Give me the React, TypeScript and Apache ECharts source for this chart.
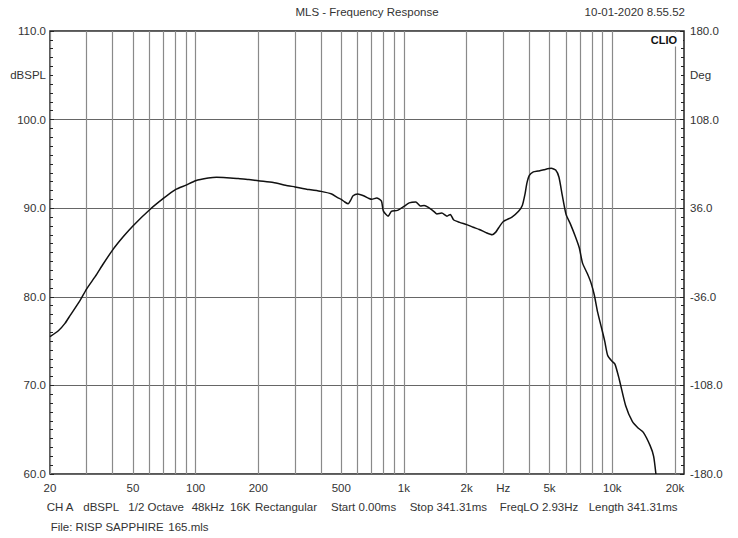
import React, { useEffect, useRef } from "react";
import * as echarts from "echarts";

const FREQS = [
  20, 22, 23.6, 25, 27.9, 30, 33, 36, 40, 45, 50, 60, 70, 80, 90, 100, 115, 126, 141, 160, 180,
  200, 236, 270, 300, 350, 400, 450, 480, 500, 520, 540, 555, 570, 600, 640, 680, 700, 740, 780, 796,
  840, 870, 930, 1000, 1060, 1140, 1200, 1250, 1310, 1390, 1440, 1520, 1610, 1670, 1730, 1850,
  2000, 2150, 2300, 2500, 2650, 2760, 2850, 3000, 3300, 3550, 3700, 3820, 3890, 4000, 4180, 4400, 4700, 5100, 5350, 5550,
  5750, 6000, 6300, 6650, 6950, 7200, 7600, 7900, 8200, 8500, 8900, 9200, 9500, 9900, 10300, 10800, 11600, 12500, 13300, 14100,
  15200, 15800, 16200,
];
const SPL = [
  75.5, 76.2, 77.0, 77.9, 79.6, 80.9, 82.3, 83.7, 85.3, 86.8, 88.0, 89.8, 91.1, 92.1, 92.6, 93.1, 93.4, 93.5, 93.45, 93.35, 93.25,
  93.1, 92.9, 92.6, 92.4, 92.1, 91.9, 91.6, 91.2, 91.0, 90.7, 90.5, 90.9, 91.4, 91.6, 91.4, 91.1, 91.0, 91.15, 90.8, 89.7,
  89.1, 89.65, 89.75, 90.2, 90.6, 90.7, 90.25, 90.3, 90.1, 89.65, 89.35, 89.45, 89.1, 89.3, 88.7, 88.4,
  88.15, 87.85, 87.6, 87.2, 87.0, 87.3, 87.8, 88.5, 89.0, 89.65, 90.3, 91.7, 92.8, 93.7, 94.1, 94.2, 94.35, 94.5, 94.3, 93.5,
  91.5, 89.3, 88.2, 86.8, 85.5, 83.8, 82.6, 81.6, 80.2, 78.3, 76.4, 75.0, 73.4, 72.8, 72.4, 70.7, 67.7, 65.9, 65.2, 64.7,
  63.2, 62.0, 60.0,
];

const FREQ_GRID = [20, 30, 40, 50, 60, 70, 80, 90, 100, 200, 300, 400, 500, 600, 700, 800, 900, 1000, 2000, 3000, 4000, 5000, 6000, 7000, 8000, 9000, 10000, 20000];
const FREQ_LABELS = [20, 50, 100, 200, 500, 1000, 2000, 3000, 5000, 10000, 20000];
const FREQ_LABEL_TEXT = ["20", "50", "100", "200", "500", "1k", "2k", "Hz", "5k", "10k", "20k"];
const DEG_LABELS = ["-180.0", "-108.0", "-36.0", "36.0", "108.0", "180.0"];

const FOOTER_ITEMS = ["CH A", "dBSPL", "1/2 Octave", "48kHz", "16K", "Rectangular", "Start 0.00ms", "Stop 341.31ms", "FreqLO 2.93Hz", "Length 341.31ms"];
const FOOTER_X = [46.7, 83.3, 128.3, 191.7, 230, 255, 331, 409.7, 499.7, 588.7];

const FONT = "'Liberation Sans', Arial, sans-serif";
const TXT = "#333";

export default function App() {
  const ref = useRef<HTMLDivElement>(null);
  useEffect(() => {
    if (!ref.current) return;
    const chart = echarts.init(ref.current, null, { renderer: "svg" });
    const data = FREQS.map((f, i) => [f, SPL[i]]);
    const t = (text: string, x: number, y: number, extra: any = {}) => ({
      type: "text",
      x,
      y,
      z: 10,
      style: { text, fill: TXT, font: `11.5px ${FONT}`, textVerticalAlign: "middle", ...extra },
    });
    const graphics: any[] = [
      t("MLS - Frequency Response", 367, 12, { textAlign: "center" }),
      t("10-01-2020 8.55.52", 685, 12, { textAlign: "right" }),
      t("dBSPL", 46, 75, { textAlign: "right" }),
      t("Deg", 690, 75, { textAlign: "left" }),
      { type: "rect", shape: { x: 645, y: 32.5, width: 38, height: 14 }, style: { fill: "#fff" }, z: 9 },
      t("CLIO", 677, 40, { textAlign: "right", font: `bold 11px ${FONT}`, fill: "#111" }),
      t("File: RISP SAPPHIRE", 50.7, 527, { textAlign: "left" }),
      t("165.mls", 168.3, 527, { textAlign: "left" }),
    ];
    FOOTER_ITEMS.forEach((s, i) => graphics.push(t(s, FOOTER_X[i], 507, { textAlign: "left" })));

    chart.setOption({
      animation: false,
      backgroundColor: "#fff",
      grid: { left: 50, right: 54, top: 31, bottom: 64, show: true, borderColor: "#222", borderWidth: 1.5, backgroundColor: "transparent" },
      xAxis: {
        type: "log",
        logBase: 10,
        min: 20,
        max: 22100,
        axisLine: { show: false },
        axisTick: { show: false, customValues: FREQ_GRID },
        minorTick: { show: false },
        axisLabel: {
          customValues: FREQ_LABELS,
          margin: 8,
          color: TXT,
          fontSize: 11.5,
          fontFamily: FONT,
          formatter: (v: number) => {
            let best = 0;
            let bd = Infinity;
            FREQ_LABELS.forEach((f, i) => {
              const d = Math.abs(Math.log(f) - Math.log(v));
              if (d < bd) { bd = d; best = i; }
            });
            return FREQ_LABEL_TEXT[best];
          },
        },
        splitLine: { show: true, lineStyle: { color: "#8a8a8a", width: 1.2 } },
      },
      yAxis: [
        {
          type: "value",
          position: "left",
          min: 60,
          max: 110,
          interval: 10,
          axisLine: { show: false },
          axisTick: { show: true, inside: true, length: 4, lineStyle: { color: "#222" } },
          minorTick: { show: true, splitNumber: 10, length: 3, lineStyle: { color: "#222" } },
          axisLabel: { formatter: (v: number) => v.toFixed(1), margin: 4, color: TXT, fontSize: 11.5, fontFamily: FONT },
          splitLine: { show: true, lineStyle: { color: "#666", width: 1.2 } },
        },
        {
          type: "value",
          position: "right",
          min: 0,
          max: 5,
          interval: 1,
          axisLine: { show: false },
          axisTick: { show: true, inside: true, length: 4, lineStyle: { color: "#222" } },
          minorTick: { show: true, splitNumber: 10, length: 3, lineStyle: { color: "#222" } },
          axisLabel: { formatter: (v: number) => DEG_LABELS[Math.round(v)], margin: 6, color: TXT, fontSize: 11.5, fontFamily: FONT },
          splitLine: { show: false },
        },
      ],
      series: [
        {
          type: "line",
          data,
          showSymbol: false,
          symbol: "none",
          smooth: 0.2,
          lineStyle: { color: "#111", width: 1.5 },
          clip: true,
          z: 5,
        },
      ],
      graphic: graphics,
    });
    return () => chart.dispose();
  }, []);
  return (
    <div
      ref={ref}
      style={{ position: "absolute", left: 0, top: 0, width: 738, height: 538, background: "#fff" }}
    />
  );
}
